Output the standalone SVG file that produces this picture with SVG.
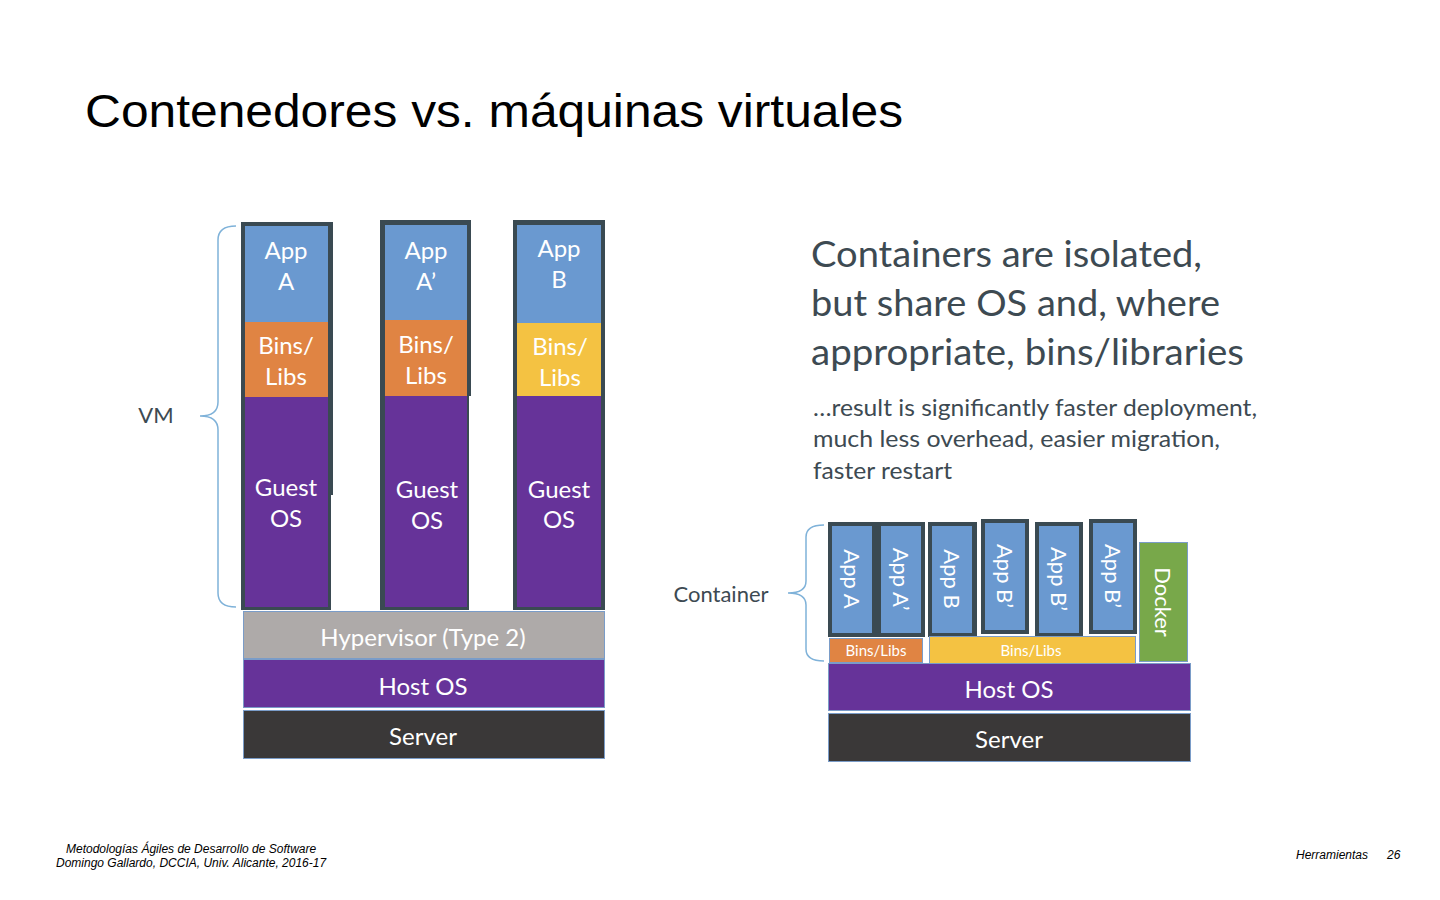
<svg xmlns="http://www.w3.org/2000/svg" width="1440" height="900" viewBox="0 0 1440 900">
<style>
.t{font-family:Lato,"Open Sans","Liberation Sans",sans-serif;fill:#fff;text-anchor:middle;dominant-baseline:central}
.vm{font-size:24px}
.frame{fill:#3a4a52}
.blue{fill:#6a99d0}
.orange{fill:#e08443}
.yellow{fill:#f4c242}
.purple{fill:#663399}
.brace{fill:none;stroke:#7fb2d9;stroke-width:1.5}
.lbl{font-family:Lato,"Open Sans","Liberation Sans",sans-serif;fill:#3d4a52}
.foot{font-family:"Liberation Sans",Arial,sans-serif;font-style:italic;font-size:12px;fill:#000}
.layer{stroke:#7a9cc8;stroke-width:1}
</style>
<rect width="1440" height="900" fill="#fff"/>
<text x="85" y="127" font-family="Liberation Sans,Arial,sans-serif" font-size="46" fill="#000" textLength="818" lengthAdjust="spacingAndGlyphs">Contenedores vs. máquinas virtuales</text>

<g id="vm-brace">
<path class="brace" d="M236,226 Q218,226 218,240 L218,402 Q218,416 200,416 Q218,416 218,430 L218,593 Q218,607 236,607"/>
<text class="lbl" x="156" y="414" font-size="22" text-anchor="middle" dominant-baseline="central">VM</text>
</g>

<g id="vm1">
<rect class="frame" x="241" y="222" width="92" height="273"/>
<rect class="frame" x="241" y="490" width="90" height="120"/>
<rect class="blue" x="245" y="226" width="83" height="96"/>
<rect class="orange" x="245" y="322" width="83" height="75"/>
<rect class="purple" x="245" y="397" width="83" height="210"/>
<text class="t vm" x="286" y="249">App</text><text class="t vm" x="286" y="280">A</text>
<text class="t vm" x="286" y="344">Bins/</text><text class="t vm" x="286" y="375">Libs</text>
<text class="t vm" x="286" y="486">Guest</text><text class="t vm" x="286" y="517">OS</text>
</g>
<g id="vm2">
<rect class="frame" x="380" y="220" width="91" height="176"/>
<rect class="frame" x="380" y="394" width="89" height="216"/>
<rect class="blue" x="385" y="225" width="82" height="95"/>
<rect class="orange" x="385" y="320" width="82" height="76"/>
<rect class="purple" x="385" y="396" width="82" height="211"/>
<text class="t vm" x="426" y="249">App</text><text class="t vm" x="426" y="280">A’</text>
<text class="t vm" x="426" y="343">Bins/</text><text class="t vm" x="426" y="374">Libs</text>
<text class="t vm" x="427" y="488">Guest</text><text class="t vm" x="427" y="519">OS</text>
</g>
<g id="vm3">
<rect class="frame" x="513" y="220" width="92" height="390"/>
<rect class="blue" x="517" y="225" width="84" height="98"/>
<rect class="yellow" x="517" y="323" width="84" height="73"/>
<rect class="purple" x="517" y="396" width="84" height="211"/>
<text class="t vm" x="559" y="247">App</text><text class="t vm" x="559" y="278">B</text>
<text class="t vm" x="560" y="345">Bins/</text><text class="t vm" x="560" y="376">Libs</text>
<text class="t vm" x="559" y="488">Guest</text><text class="t vm" x="559" y="518">OS</text>
</g>
<g id="hypervisor">
<rect class="layer" x="243.5" y="611.5" width="361" height="47" fill="#aeaaa9"/>
<text class="t vm" x="423" y="636" fill="#f4f4f4">Hypervisor (Type 2)</text>
</g>
<g id="vm-hostos">
<rect class="layer purple" x="243.5" y="659.5" width="361" height="48"/>
<text class="t vm" x="423" y="685">Host OS</text>
</g>
<g id="vm-server">
<rect class="layer" x="243.5" y="710.5" width="361" height="48" fill="#3a3838"/>
<text class="t vm" x="423" y="735">Server</text>
</g>

<g id="desc">
<text class="lbl" font-size="36" x="811" y="267" textLength="391" lengthAdjust="spacingAndGlyphs">Containers are isolated,</text>
<text class="lbl" font-size="36" x="811" y="316" textLength="409" lengthAdjust="spacingAndGlyphs">but share OS and, where</text>
<text class="lbl" font-size="36" x="811" y="365" textLength="433" lengthAdjust="spacingAndGlyphs">appropriate, bins/libraries</text>
<text class="lbl" font-size="23" x="813" y="416" textLength="444" lengthAdjust="spacingAndGlyphs">…result is significantly faster deployment,</text>
<text class="lbl" font-size="23" x="813" y="447" textLength="407" lengthAdjust="spacingAndGlyphs">much less overhead, easier migration,</text>
<text class="lbl" font-size="23" x="813" y="479" textLength="139" lengthAdjust="spacingAndGlyphs">faster restart</text>
</g>

<g id="container-brace">
<path class="brace" d="M824,525 Q806,525 806,537 L806,581 Q806,593 788,593 Q806,593 806,605 L806,649 Q806,661 824,661"/>
<text class="lbl" x="721" y="593" font-size="22" text-anchor="middle" dominant-baseline="central">Container</text>
</g>

<g id="app-a">
<rect class="frame" x="828" y="522" width="49" height="115"/>
<rect class="blue" x="832" y="526" width="40" height="107"/>
<text class="t" font-size="22" transform="translate(852,579) rotate(90)">App A</text>
</g>
<g id="app-a2">
<rect class="frame" x="877" y="522" width="48" height="115"/>
<rect class="blue" x="881" y="526" width="40" height="107"/>
<text class="t" font-size="22" transform="translate(901,579) rotate(90)">App A’</text>
</g>
<g id="app-b">
<rect class="frame" x="928" y="522" width="49" height="115"/>
<rect class="blue" x="932" y="526" width="40" height="107"/>
<text class="t" font-size="22" transform="translate(952,579) rotate(90)">App B</text>
</g>
<g id="app-b2">
<rect class="frame" x="981" y="519" width="48" height="115"/>
<rect class="blue" x="985" y="523" width="40" height="107"/>
<text class="t" font-size="22" transform="translate(1005,576) rotate(90)">App B’</text>
</g>
<g id="app-b3">
<rect class="frame" x="1035" y="522" width="48" height="115"/>
<rect class="blue" x="1039" y="526" width="40" height="107"/>
<text class="t" font-size="22" transform="translate(1059,579) rotate(90)">App B’</text>
</g>
<g id="app-b4">
<rect class="frame" x="1089" y="519" width="48" height="115"/>
<rect class="blue" x="1093" y="523" width="40" height="107"/>
<text class="t" font-size="22" transform="translate(1113,576) rotate(90)">App B’</text>
</g>
<g id="docker">
<rect class="layer" x="1139.5" y="542.5" width="48" height="119" fill="#78a84a"/>
<text class="t" font-size="22" transform="translate(1163,602) rotate(90)">Docker</text>
</g>
<g id="bins-orange">
<rect class="layer orange" x="829.5" y="638.5" width="93" height="24"/>
<text class="t" font-size="15" x="876" y="650">Bins/Libs</text>
</g>
<g id="bins-yellow">
<rect class="layer yellow" x="929.5" y="636.5" width="206" height="28"/>
<text class="t" font-size="15" x="1031" y="650">Bins/Libs</text>
</g>
<g id="ct-hostos">
<rect class="layer purple" x="828.5" y="663.5" width="362" height="47"/>
<text class="t vm" x="1009" y="688">Host OS</text>
</g>
<g id="ct-server">
<rect class="layer" x="828.5" y="713.5" width="362" height="48" fill="#3a3838"/>
<text class="t vm" x="1009" y="738">Server</text>
</g>

<g id="footer">
<text class="foot" x="66" y="853">Metodologías Ágiles de Desarrollo de Software</text>
<text class="foot" x="56" y="867">Domingo Gallardo, DCCIA, Univ. Alicante, 2016-17</text>
<text class="foot" x="1296" y="859">Herramientas</text>
<text class="foot" x="1387" y="859">26</text>
</g>
</svg>
